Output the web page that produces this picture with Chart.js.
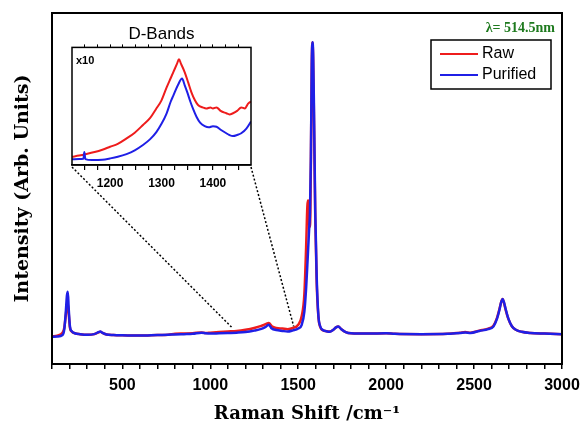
<!DOCTYPE html>
<html>
<head>
<meta charset="utf-8">
<script src="https://cdn.jsdelivr.net/npm/chart.js@4.4.0/dist/chart.umd.min.js"></script>
<style>
  html, body { margin: 0; padding: 0; background: #fff; }
  #wrap { position: relative; width: 580px; height: 428px; }
  #main-chart { position: absolute; left: 0; top: 0; }
  #inset-chart { position: absolute; left: 56px; top: 14px; }
</style>
</head>
<body>
<div id="wrap">
  <canvas id="main-chart" width="580" height="428"></canvas>
  <canvas id="inset-chart" width="210" height="186"></canvas>
</div>
<script>
// full spectrum (cm-1 vs arb. intensity, G peak = 100)
const ramanShift = [100, 130, 160, 170, 178, 185, 190, 195, 202, 212,
    230, 260, 300, 340, 365, 375, 385, 410, 450, 500,
    600, 700, 760, 800, 850, 900, 950, 975, 1000, 1050,
    1100, 1150, 1200, 1250, 1290, 1315, 1333, 1350, 1375, 1410,
    1440, 1470, 1500, 1520, 1535, 1545, 1552, 1557, 1562, 1567,
    1572, 1577, 1581, 1585, 1590, 1597, 1605, 1615, 1625, 1640,
    1660, 1680, 1700, 1715, 1728, 1745, 1770, 1800, 1900, 2000,
    2050, 2200, 2350, 2420, 2450, 2480, 2530, 2580, 2610, 2630,
    2645, 2655, 2662, 2670, 2680, 2695, 2715, 2740, 2770, 2820,
    2900, 3000];
const rawIntensity = [-0.5, -0.2, 0.8, 2.5, 6.5, 10.0, 10.8, 7.5, 2.5, 1.2,
    0.6, 0.3, 0.1, 0.3, 0.9, 1.1, 0.8, 0.2, 0.0, -0.1,
    -0.2, 0.0, 0.1, 0.4, 0.5, 0.6, 0.9, 0.7, 0.8, 1.0,
    1.2, 1.4, 1.8, 2.4, 3.1, 3.7, 4.1, 3.0, 2.4, 2.2,
    2.0, 2.4, 3.5, 6.5, 14.0, 30.0, 44.0, 46.0, 38.0, 37.0,
    58, 92, 100, 94, 72, 40, 18, 6.0, 2.8, 1.6,
    1.3, 1.2, 1.8, 2.6, 2.9, 2.0, 1.0, 0.6, 0.5, 0.6,
    0.4, 0.3, 0.4, 0.8, 1.0, 0.8, 1.5, 2.2, 3.2, 5.8,
    9.0, 11.5, 12.3, 11.0, 8.5, 5.5, 3.0, 1.7, 1.1, 0.7,
    0.5, 0.3];
const purifiedIntensity = [-0.6, -0.5, 0.0, 2.0, 7.5, 13.5, 14.8, 9.0, 3.0, 1.3,
    0.6, 0.3, 0.1, 0.3, 1.0, 1.2, 0.8, 0.2, 0.0, -0.1,
    -0.2, 0.0, 0.1, 0.2, 0.3, 0.4, 0.8, 0.6, 0.5, 0.6,
    0.7, 0.8, 1.0, 1.5, 2.1, 2.8, 3.5, 2.2, 1.7, 1.4,
    1.2, 1.6, 2.2, 3.5, 8.0, 16.0, 24.0, 30.0, 36.0, 42.0,
    60, 92, 100, 96, 76, 42, 20, 6.5, 3.0, 1.7,
    1.3, 1.1, 1.8, 2.6, 2.9, 2.0, 1.0, 0.6, 0.5, 0.6,
    0.4, 0.3, 0.4, 0.7, 0.9, 0.7, 1.4, 2.0, 2.9, 5.5,
    8.8, 11.4, 12.3, 11.2, 8.8, 5.6, 3.0, 1.7, 1.1, 0.7,
    0.5, 0.3];

// D-band close-up (x10)
const dBandShiftRaw = [1126, 1140, 1154, 1170, 1185, 1200, 1215, 1232, 1248, 1264,
    1278, 1290, 1300, 1310, 1318, 1323, 1330, 1334, 1338, 1345,
    1352, 1358, 1365, 1371, 1380, 1387, 1395, 1400, 1407, 1415,
    1426, 1432, 1439, 1447, 1455, 1462, 1468, 1474];
const dBandRaw = [7, 8, 9.3, 11, 13, 15.5, 18, 22.6, 27.5, 34,
    40, 48, 55, 66, 74, 79, 86, 90, 86, 79,
    70, 62, 55, 51, 49, 48, 49, 48, 49, 46,
    44, 43, 44, 46, 49, 48, 52, 54];
const dBandShiftPurified = [1126, 1140, 1148, 1150, 1152, 1165, 1185, 1200, 1215, 1232,
    1248, 1264, 1278, 1290, 1300, 1310, 1318, 1323, 1332, 1340,
    1345, 1350, 1356, 1362, 1368, 1375, 1384, 1392, 1400, 1407,
    1415, 1426, 1432, 1439, 1447, 1455, 1465, 1474];
const dBandPurified = [4.8, 5, 5.2, 11, 5, 4.2, 4.5, 5.6, 7, 9.3,
    12.5, 17, 22, 28, 35, 44, 54, 59, 68, 73.5,
    68, 62, 54, 47, 41, 36, 33, 32, 33, 32.5,
    30, 27, 25.5, 24.6, 25.5, 27, 31, 37];

const seriesNames = ['Raw', 'Purified'];
const seriesColors = ['#ee1c1c', '#1f1fe6'];
const insetRange = [1126, 1474];

const INSET_LEFT = 56, INSET_TOP = 14;

function pairs(xs, ys) {
    return xs.map((x, i) => ({ x: x, y: ys[i] }));
}

const insetFrame = {
    id: 'insetFrame',
    afterDatasetsDraw(chart) {
        const { ctx, chartArea: a } = chart;
        ctx.save();
        ctx.strokeStyle = '#000';
        ctx.lineWidth = 1.5;
        ctx.strokeRect(a.left, a.top, a.right - a.left, a.bottom - a.top);
        ctx.fillStyle = '#000';
        ctx.font = 'bold 11px "Liberation Sans", Arial, sans-serif';
        ctx.textBaseline = 'middle';
        ctx.fillText('x10', a.left + 4, a.top + 14);
        ctx.restore();
    }
};

const inset = new Chart(document.getElementById('inset-chart'), {
    type: 'line',
    data: {
        datasets: [
            { label: seriesNames[0], data: pairs(dBandShiftRaw, dBandRaw), borderColor: seriesColors[0], order: 1 },
            { label: seriesNames[1], data: pairs(dBandShiftPurified, dBandPurified), borderColor: seriesColors[1], order: 0 }
        ]
    },
    options: {
        responsive: false,
        animation: false,
        layout: { padding: { left: 16, right: 15, top: 0, bottom: 0 } },
        elements: {
            point: { radius: 0 },
            line: { borderWidth: 2, cubicInterpolationMode: 'monotone' }
        },
        plugins: {
            legend: { display: false },
            tooltip: { enabled: false },
            title: {
                display: true,
                text: 'D-Bands',
                color: '#000',
                font: { family: '"Liberation Sans", Arial, sans-serif', size: 17, weight: 'normal' },
                padding: { top: 10, bottom: 0 }
            }
        },
        scales: {
            x: {
                type: 'linear',
                min: insetRange[0],
                max: insetRange[1],
                afterFit: s => { s.height = 35; },
                grid: { drawOnChartArea: false, color: '#000', tickLength: 5, lineWidth: 1.2 },
                border: { color: '#000', width: 1.5 },
                ticks: {
                    stepSize: 25,
                    includeBounds: false,
                    autoSkip: false,
                    maxRotation: 0,
                    padding: 6,
                    color: '#000',
                    font: { family: '"Liberation Sans", Arial, sans-serif', size: 12, weight: 'bold' },
                    callback: v => (v % 100 === 0 ? v : '')
                }
            },
            xTop: {
                type: 'linear',
                position: 'top',
                min: insetRange[0],
                max: insetRange[1],
                afterFit: s => { s.height = 3; },
                grid: { drawOnChartArea: false, color: '#000', tickLength: 3, lineWidth: 1 },
                border: { display: false },
                ticks: { stepSize: 25, includeBounds: false, autoSkip: false, display: false }
            },
            y: { display: false, min: 0, max: 100 }
        }
    },
    plugins: [insetFrame]
});

const mainDecor = {
    id: 'mainDecor',
    afterDatasetsDraw(chart) {
        const { ctx, chartArea: a, scales } = chart;
        ctx.save();
        // frame
        ctx.strokeStyle = '#000';
        ctx.lineWidth = 2;
        ctx.strokeRect(a.left, a.top, a.right - a.left, a.bottom - a.top);

        // zoom connectors from the inset corners down to the spectrum
        const ia = inset.chartArea;
        ctx.lineWidth = 1.5;
        ctx.setLineDash([2, 2]);
        ctx.beginPath();
        ctx.moveTo(INSET_LEFT + ia.left, INSET_TOP + ia.bottom + 2);
        ctx.lineTo(scales.x.getPixelForValue(insetRange[0]), scales.y.getPixelForValue(2.4));
        ctx.moveTo(INSET_LEFT + ia.right, INSET_TOP + ia.bottom + 2);
        ctx.lineTo(scales.x.getPixelForValue(insetRange[1]), scales.y.getPixelForValue(3.0));
        ctx.stroke();
        ctx.setLineDash([]);

        // legend box
        const bw = 120, bh = 49;
        const bx = a.right - 11 - bw, by = a.top + 27;
        ctx.lineWidth = 1.5;
        ctx.strokeRect(bx, by, bw, bh);
        ctx.font = '16px "Liberation Sans", Arial, sans-serif';
        ctx.textBaseline = 'middle';
        chart.data.datasets.forEach((ds, i) => {
            const ly = by + 14 + i * 21;
            ctx.strokeStyle = ds.borderColor;
            ctx.lineWidth = 2;
            ctx.beginPath();
            ctx.moveTo(bx + 9, ly);
            ctx.lineTo(bx + 47, ly);
            ctx.stroke();
            ctx.fillStyle = '#000';
            ctx.fillText(ds.label, bx + 51, ly);
        });

        // excitation wavelength
        ctx.fillStyle = '#1e7a1e';
        ctx.font = 'bold 14px "Liberation Serif", "Times New Roman", serif';
        ctx.textAlign = 'right';
        ctx.fillText('\u03bb= 514.5nm', a.right - 7, a.top + 15);
        ctx.restore();
    }
};

new Chart(document.getElementById('main-chart'), {
    type: 'line',
    data: {
        datasets: [
            { label: seriesNames[0], data: pairs(ramanShift, rawIntensity), borderColor: seriesColors[0], order: 1 },
            { label: seriesNames[1], data: pairs(ramanShift, purifiedIntensity), borderColor: seriesColors[1], order: 0 }
        ]
    },
    options: {
        responsive: false,
        animation: false,
        layout: { padding: { left: 0, right: 18, top: 13, bottom: 0 } },
        elements: {
            point: { radius: 0 },
            line: { borderWidth: 2.5, cubicInterpolationMode: 'monotone' }
        },
        plugins: {
            legend: { display: false },
            tooltip: { enabled: false }
        },
        scales: {
            x: {
                type: 'linear',
                min: 100,
                max: 3000,
                afterFit: s => { s.height = 64; s.paddingLeft = 0; s.paddingRight = 0; },
                grid: { drawOnChartArea: false, color: '#000', tickLength: 5, lineWidth: 1.5 },
                border: { color: '#000', width: 2 },
                ticks: {
                    stepSize: 100,
                    autoSkip: false,
                    maxRotation: 0,
                    padding: 7,
                    color: '#000',
                    font: { family: '"Liberation Sans", Arial, sans-serif', size: 16, weight: 'bold' },
                    callback: v => (v % 500 === 0 ? v : '')
                },
                title: {
                    display: true,
                    text: 'Raman Shift /cm\u207b\u00b9',
                    color: '#000',
                    font: { family: '"DejaVu Serif", serif', size: 18, weight: 'bold' },
                    padding: { top: 0, bottom: 3 }
                }
            },
            y: {
                min: -9.9,
                max: 110,
                afterFit: s => { s.width = 52; },
                grid: { drawOnChartArea: false, drawTicks: false },
                border: { color: '#000', width: 2 },
                ticks: { display: false },
                title: {
                    display: true,
                    text: 'Intensity (Arb. Units)',
                    color: '#000',
                    font: { family: '"DejaVu Serif", serif', size: 19, weight: 'bold' },
                    padding: { top: 12, bottom: 0 }
                }
            }
        }
    },
    plugins: [mainDecor]
});
</script>
</body>
</html>
